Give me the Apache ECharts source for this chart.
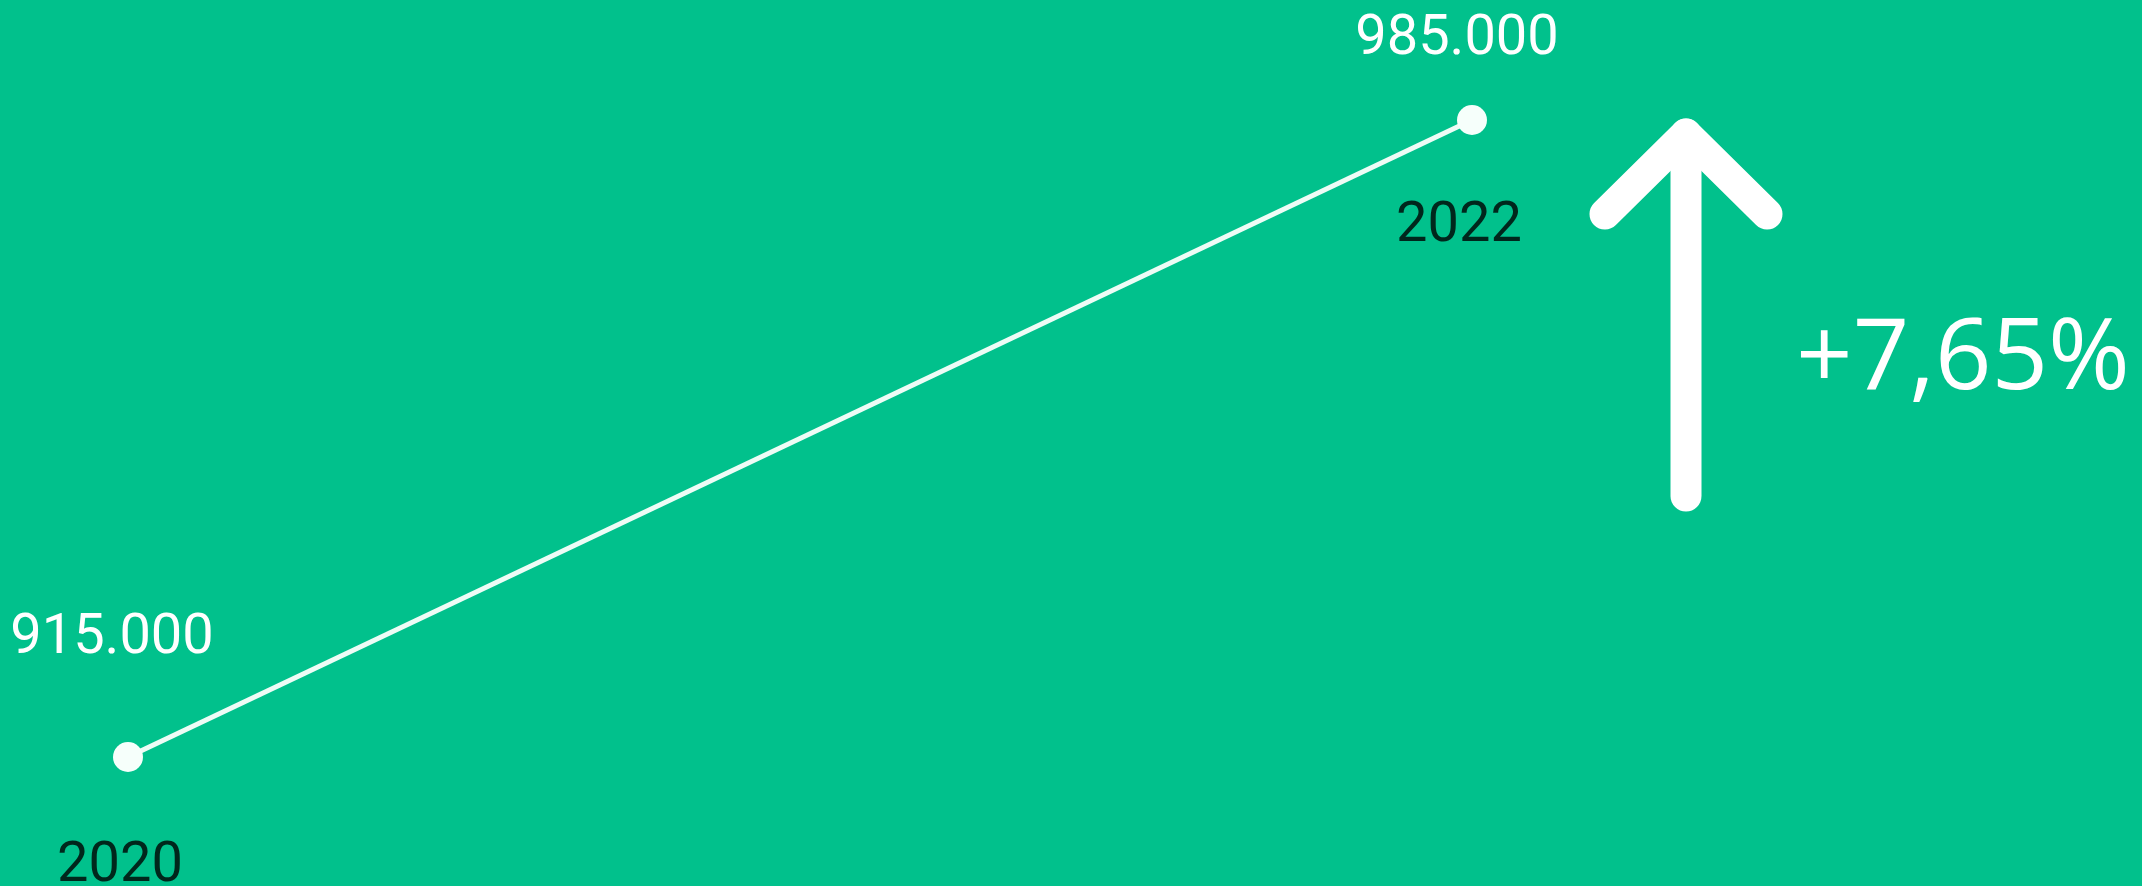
<!DOCTYPE html>
<html>
<head>
<meta charset="utf-8">
<title>915.000 - 985.000</title>
<script src="https://cdn.jsdelivr.net/npm/echarts@6/dist/echarts.min.js"></script>
<style>
    html, body { margin: 0; padding: 0; background: #01c18c; }
    #chart { width: 2142px; height: 886px; }
</style>
</head>
<body>
<div id="chart"></div>
<script>
    // data
    var years = [2020, 2022];
    var values = [915000, 985000];

    var chart = echarts.init(document.getElementById('chart'));

    function fmtThousands(v) {
        // 915000 -> 915.000
        return String(v).replace(/\B(?=(\d{3})+(?!\d))/g, '.');
    }

    var change = (values[1] - values[0]) / values[0] * 100;
    var changeText = (change >= 0 ? '+' : '') + change.toFixed(2).replace('.', ',') + '%';

    // label offsets for each point (value above, year below)
    var valueOffsets = [[-16, -118], [-15, -80]];
    var yearOffsets = [[-8, 110], [-13, 107]];

    var lineData = [];
    var yearData = [];
    for (var i = 0; i < years.length; i++) {
        lineData.push({
            value: [years[i], values[i]],
            label: { offset: valueOffsets[i] }
        });
        yearData.push({
            value: [years[i], values[i]],
            name: String(years[i]),
            label: { offset: yearOffsets[i] }
        });
    }

    var option = {
        backgroundColor: '#01c18c',
        animation: false,
        grid: {
            left: 128,
            right: 670,
            top: 120,
            bottom: 129
        },
        xAxis: {
            type: 'value',
            min: years[0],
            max: years[years.length - 1],
            show: false
        },
        yAxis: {
            type: 'value',
            min: 915000,
            max: 985000,
            show: false
        },
        series: [{
            type: 'line',
            data: lineData,
            symbol: 'circle',
            symbolSize: 30,
            itemStyle: { color: '#f6fffb' },
            lineStyle: { color: '#eefcf6', width: 5 },
            label: {
                show: true,
                position: 'inside',
                align: 'center',
                verticalAlign: 'middle',
                color: '#ffffff',
                fontFamily: 'Roboto',
                fontSize: 56,
                formatter: function(p) {
                    return fmtThousands(p.value[1]);
                }
            },
            z: 3
        }, {
            type: 'scatter',
            data: yearData,
            symbolSize: 0,
            silent: true,
            label: {
                show: true,
                position: 'inside',
                align: 'center',
                verticalAlign: 'middle',
                color: '#000000',
                fontFamily: 'Roboto',
                fontSize: 56,
                formatter: function(p) {
                    return p.name;
                }
            }
        }],
        graphic: [{
            type: 'polyline',
            shape: { points: [[1686, 134], [1686, 496]] },
            style: { stroke: '#ffffff', lineWidth: 31, lineCap: 'round', fill: null }
        }, {
            type: 'polyline',
            shape: { points: [[1605, 214], [1686, 134], [1767, 214]] },
            style: { stroke: '#ffffff', lineWidth: 31, lineCap: 'round', lineJoin: 'round', fill: null }
        }, {
            type: 'text',
            x: 1963,
            y: 361,
            style: {
                text: changeText,
                fill: '#ffffff',
                fontFamily: 'Open Sans',
                fontWeight: 500,
                fontSize: 99,
                align: 'center',
                verticalAlign: 'middle'
            }
        }]
    };

    chart.setOption(option);
    window.addEventListener('resize', chart.resize);
</script>
</body>
</html>
